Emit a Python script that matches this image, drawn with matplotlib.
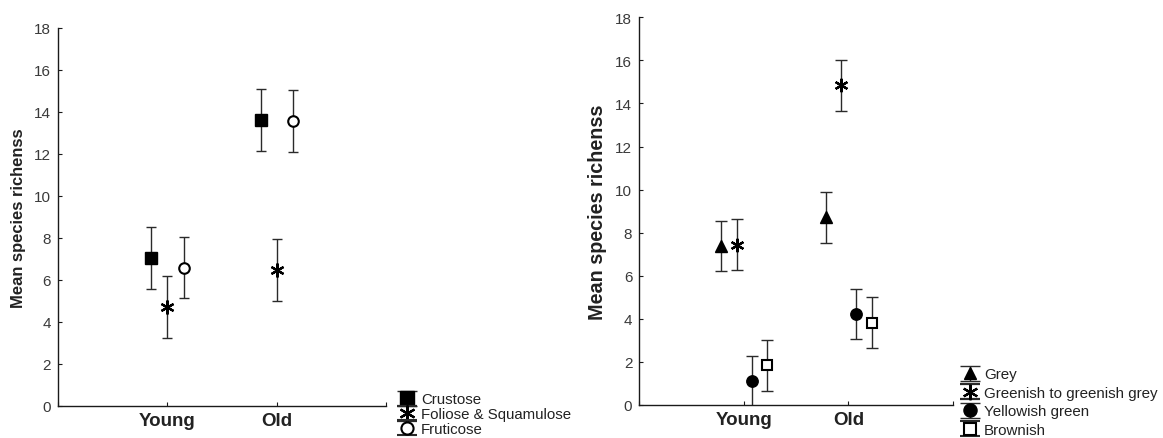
import matplotlib
matplotlib.use("Agg")
import matplotlib.pyplot as plt
from matplotlib.legend_handler import HandlerErrorbar
import numpy as np

# ---------------- data ----------------
groups = ["Young", "Old"]

# left panel: growth forms
growth_labels = ["Crustose", "Foliose & Squamulose", "Fruticose"]
crustose_mean = [7.06, 13.63]
crustose_err = [1.48, 1.47]
foliose_mean = [4.71, 6.46]
foliose_err = [1.47, 1.48]
fruticose_mean = [6.59, 13.58]
fruticose_err = [1.46, 1.47]

# right panel: thallus colour
colour_labels = ["Grey", "Greenish to greenish grey", "Yellowish green", "Brownish"]
grey_mean = [7.37, 8.72]
grey_err = [1.17, 1.19]
greenish_mean = [7.45, 14.84]
greenish_err = [1.18, 1.17]
yellowish_mean = [1.12, 4.23]
yellowish_err = [1.15, 1.16]
brownish_mean = [1.84, 3.83]
brownish_err = [1.17, 1.19]

y_ticks = list(range(0, 19, 2))

# ---------------- style ----------------
plt.rcParams["font.family"] = ["Liberation Sans", "DejaVu Sans"]
W, H = 1163, 439
fig = plt.figure(figsize=(W / 100, H / 100), dpi=100)

TICK_COL = "#3a3a3a"
AX_COL = "#1a1a1a"
ERR_COL = "#2a2a2a"
TXT_COL = "#222222"
ASTER = (6, 2, 0)


def fx(px):
    return px / W


def fy(py):
    return 1 - py / H


def style_axes(ax):
    ax.set_xlim(0, 3)
    ax.set_ylim(0, 18)
    for s in ["top", "right"]:
        ax.spines[s].set_visible(False)
    for s in ["left", "bottom"]:
        ax.spines[s].set_color(AX_COL)
        ax.spines[s].set_linewidth(1.0)
    ax.set_yticks(y_ticks)
    ax.set_yticklabels([str(t) for t in y_ticks], fontsize=11, color=TICK_COL)
    ax.set_xticks([0, 1, 2, 3])
    ax.set_xticklabels([""] + groups + [""], fontsize=13.5, fontweight="bold", color=TXT_COL)
    ax.tick_params(axis="both", direction="in", length=3, width=0.8, color=AX_COL)
    ax.tick_params(axis="y", pad=5)
    ax.tick_params(axis="x", pad=4.5)


def draw(ax, x0, means, errs, marker, ms, mfc, mew, label, capsize):
    xs = np.arange(1, len(means) + 1) + x0
    ax.errorbar(xs, means, yerr=errs, fmt="none", ecolor=ERR_COL, elinewidth=1.0,
                capsize=capsize, capthick=1.0, zorder=2)
    ax.plot(xs, means, linestyle="none", marker=marker, markersize=ms,
            markerfacecolor=mfc, markeredgecolor="black", markeredgewidth=mew, zorder=3)
    # legend proxy (NaN data so nothing is drawn in the axes)
    h = ax.errorbar([np.nan], [np.nan], yerr=[1.0], fmt="", linestyle="none", marker=marker,
                    color="black", markersize=ms * 1.15,
                    markerfacecolor=mfc, markeredgecolor="black", markeredgewidth=mew,
                    ecolor=ERR_COL, elinewidth=1.0, capsize=7.5, capthick=1.0, label=label)
    return h


# ---------------- left panel ----------------
axL = fig.add_axes([fx(58), fy(407), fx(386 - 58), (407 - 29) / H])
style_axes(axL)
hL = []
hL.append(draw(axL, -0.145, crustose_mean, crustose_err, "s", 8.3, "black", 1.0, growth_labels[0], 3.6))
hL.append(draw(axL, 0.0, foliose_mean, foliose_err, ASTER, 10, "black", 1.6, growth_labels[1], 3.6))
hL.append(draw(axL, 0.15, fruticose_mean, fruticose_err, "o", 7.6, "white", 1.5, growth_labels[2], 3.6))

fig.text(fx(19), fy(218), "Mean species richenss", rotation=90, ha="center", va="center",
         fontsize=11.9, fontweight="bold", color=TXT_COL)

hm = {type(hL[0]): HandlerErrorbar(xerr_size=0.5, yerr_size=0.5)}
fig.legend(handles=hL, labels=growth_labels, loc="lower left",
           bbox_to_anchor=(fx(396), fy(437)), frameon=False, fontsize=10.8,
           borderpad=0, borderaxespad=0, labelspacing=0.05, handlelength=1.5,
           handletextpad=0.15, labelcolor=TXT_COL, handler_map=hm)

# ---------------- right panel ----------------
axR = fig.add_axes([fx(639.3), fy(406), fx(953 - 639.3), (406 - 18.3) / H])
style_axes(axR)
hR = []
hR.append(draw(axR, -0.215, grey_mean, grey_err, "^", 8.0, "black", 1.0, colour_labels[0], 4))
hR.append(draw(axR, -0.07, greenish_mean, greenish_err, ASTER, 9.7, "black", 1.6, colour_labels[1], 4))
hR.append(draw(axR, 0.075, yellowish_mean, yellowish_err, "o", 8.2, "black", 1.0, colour_labels[2], 4))
hR.append(draw(axR, 0.225, brownish_mean, brownish_err, "s", 7.6, "white", 1.5, colour_labels[3], 4))

fig.text(fx(597.5), fy(212), "Mean species richenss", rotation=90, ha="center", va="center",
         fontsize=14.2, fontweight="bold", color=TXT_COL)

fig.legend(handles=hR, labels=colour_labels, loc="lower left",
           bbox_to_anchor=(fx(959), fy(438)), frameon=False, fontsize=10.9,
           borderpad=0, borderaxespad=0, labelspacing=0.3, handlelength=1.5,
           handletextpad=0.15, labelcolor=TXT_COL, handler_map=hm)

fig.savefig("out.png", dpi=100)
